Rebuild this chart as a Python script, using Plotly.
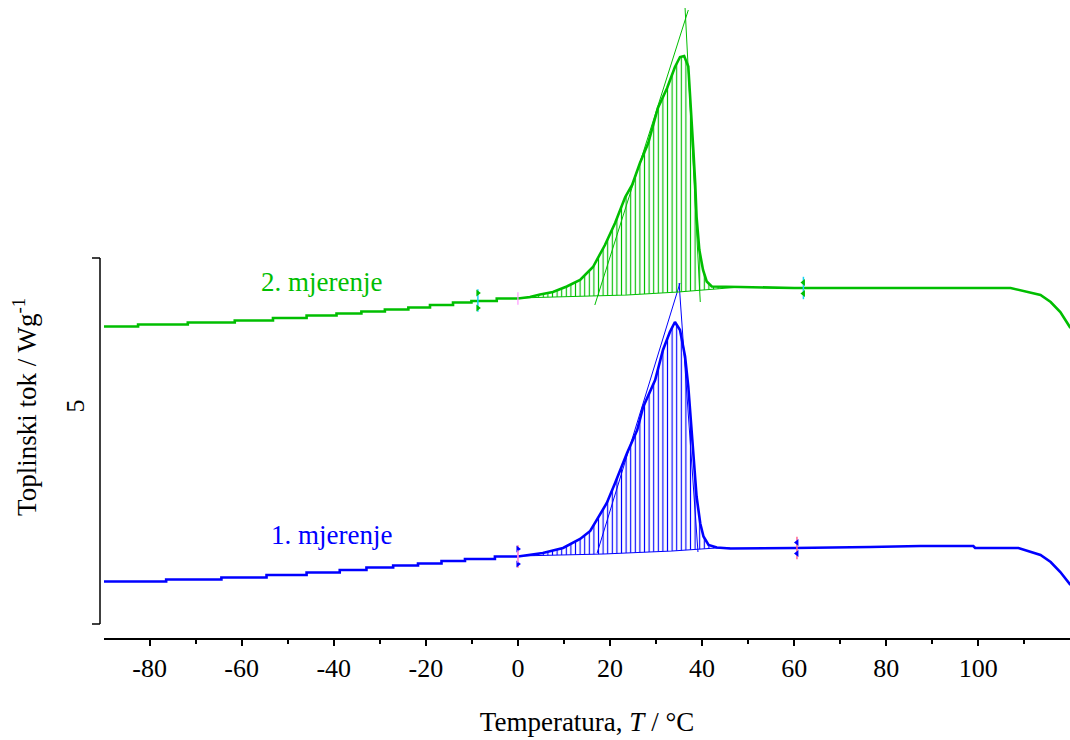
import plotly.graph_objects as go

# ---------------- data (T in °C, heat flow in W/g, curves offset) ----------------
# 1. mjerenje (blue)
blue_step_T = [-90, -76.4, -64.4, -54.6, -45.9, -38.7, -32.9, -27.1, -21.7, -16.6, -11.5, -5.0, 0.0]
blue_step_W = [1.57, 1.61, 1.65, 1.70, 1.75, 1.80, 1.85, 1.89, 1.93, 1.98, 2.02, 2.07, 2.07]
blue_T = [0, 1.9, 5.4, 9.8, 13.5, 15.7, 17.4, 19.3, 21.1, 23.7, 25.9, 27.2, 29.8, 31.5, 33.0, 34.1,
          35.2, 36.3, 37.0, 37.5, 38.1, 38.8, 39.6, 40.3, 41.4, 43.2, 46.1,
          52.6, 60, 76.5, 87.4, 98.9, 99.3, 108.7, 111.3, 113.5, 115.7, 117.8, 120]
blue_W = [2.07, 2.09, 2.14, 2.24, 2.42, 2.58, 2.84, 3.14, 3.54, 4.14, 4.60, 5.06, 5.60, 6.20, 6.56, 6.76,
          6.60, 6.07, 5.47, 4.80, 4.07, 3.27, 2.73, 2.47, 2.30, 2.25, 2.23,
          2.24, 2.24, 2.26, 2.28, 2.28, 2.24, 2.24, 2.16, 2.10, 1.96, 1.76, 1.50]
blue_base_T = [0, 18.6, 33.5, 43.0, 46.1]
blue_base_W = [2.08, 2.12, 2.18, 2.24, 2.24]
blue_tan_T = [[17.2, 35.2], [39.1, 35.0]]
blue_tan_W = [[2.14, 7.54], [2.16, 7.54]]
blue_lim_T = [0.0, 60.6]
blue_lim_W = [2.07, 2.24]

# 2. mjerenje (green)
green_step_T = [-90, -82.5, -71.7, -61.5, -53.2, -45.9, -39.4, -34.0, -28.9, -23.8, -19.1, -14.1, -10.1, -4.6, 0]
green_step_W = [6.67, 6.71, 6.75, 6.79, 6.84, 6.89, 6.93, 6.97, 7.01, 7.05, 7.10, 7.15, 7.18, 7.23, 7.23]
green_T = [0, 2.6, 4.8, 7.6, 10.6, 13.5, 16.3, 18.9, 21.1, 23.3, 24.8, 26.5, 28.3, 30.4, 32.4, 34.1,
           35.2, 36.1, 37.0, 37.5, 38.1, 38.5, 38.8, 39.4, 40.2, 41.0, 42.1, 48.3,
           52.6, 60, 107, 110.7, 113.5, 115.7, 117.8, 120]
green_W = [7.23, 7.26, 7.31, 7.36, 7.47, 7.60, 7.86, 8.30, 8.74, 9.26, 9.50, 9.94, 10.34, 11.04, 11.44, 11.86,
           12.06, 12.08, 11.87, 11.20, 10.20, 9.54, 8.86, 8.20, 7.80, 7.57, 7.47, 7.46,
           7.45, 7.44, 7.44, 7.36, 7.30, 7.16, 6.96, 6.64]
green_base_T = [0, 11.5, 23.7, 34.8, 46.0, 48.3]
green_base_W = [7.24, 7.27, 7.30, 7.36, 7.44, 7.46]
green_tan_T = [[16.7, 37.0], [36.3, 39.6]]
green_tan_W = [[7.10, 13.0], [13.04, 7.16]]
green_lim_T = [-8.7, 62.0]
green_lim_W = [7.19, 7.44]

x_ticks = [-80, -60, -40, -20, 0, 20, 40, 60, 80, 100]
x_tick_labels = ["-80", "-60", "-40", "-20", "0", "20", "40", "60", "80", "100"]
y_ticks = [5]
y_tick_labels = ["5"]

BLUE = "rgb(0,0,255)"
GREEN = "rgb(0,190,0)"
FONT = "Liberation Serif"

fig = go.Figure()


def add_series(stepT, stepW, T, W, bT, bW, tanT, tanW, limT, limW, color):
    tmax = bT[-1]
    pT = [t for t in T if t <= tmax]
    pW = W[:len(pT)]
    # baseline + hatched integration area
    fig.add_trace(go.Scatter(x=bT, y=bW, mode="lines", line=dict(color=color, width=1.2),
                             showlegend=False, hoverinfo="skip"))
    fig.add_trace(go.Scatter(x=pT, y=pW, mode="lines", line=dict(width=0), fill="tonexty",
                             fillcolor="rgba(0,0,0,0)",
                             fillpattern=dict(shape="|", fgcolor=color, bgcolor="rgba(0,0,0,0)",
                                              size=4.6, solidity=0.25, fillmode="replace"),
                             showlegend=False, hoverinfo="skip"))
    # tangents
    for tt, ww in zip(tanT, tanW):
        fig.add_trace(go.Scatter(x=tt, y=ww, mode="lines", line=dict(color=color, width=1),
                                 showlegend=False, hoverinfo="skip"))
    # curve
    fig.add_trace(go.Scatter(x=stepT, y=stepW, mode="lines", line=dict(color=color, width=2.6, shape="hv"),
                             showlegend=False))
    fig.add_trace(go.Scatter(x=T, y=W, mode="lines", line=dict(color=color, width=2.6),
                             showlegend=False))
    # integration limit markers
    fig.add_trace(go.Scatter(x=limT, y=limW, mode="markers",
                             marker=dict(symbol="line-ns-open", size=16, line=dict(color=color, width=1.5)),
                             showlegend=False, hoverinfo="skip"))
    fig.add_trace(go.Scatter(x=[limT[0], limT[0]], y=[limW[0] + 0.15, limW[0] - 0.15], mode="markers",
                             marker=dict(symbol="triangle-right", size=6, color=color),
                             showlegend=False, hoverinfo="skip"))
    fig.add_trace(go.Scatter(x=[limT[1], limT[1]], y=[limW[1] + 0.11, limW[1] - 0.11], mode="markers",
                             marker=dict(symbol="triangle-left", size=6, color=color),
                             showlegend=False, hoverinfo="skip"))


add_series(blue_step_T, blue_step_W, blue_T, blue_W, blue_base_T, blue_base_W,
           blue_tan_T, blue_tan_W, blue_lim_T, blue_lim_W, BLUE)
add_series(green_step_T, green_step_W, green_T, green_W, green_base_T, green_base_W,
           green_tan_T, green_tan_W, green_lim_T, green_lim_W, GREEN)

# red start markers
fig.add_trace(go.Scatter(x=[0, 0], y=[blue_step_W[-1], green_step_W[-1]], mode="markers",
                         marker=dict(symbol="line-ns-open", size=9, line=dict(color="red", width=1.2)),
                         showlegend=False, hoverinfo="skip"))

# curve labels
fig.add_annotation(x=-56.3, y=7.56, xref="x", yref="y", text="2. mjerenje", showarrow=False,
                   xanchor="left", yanchor="middle", font=dict(family=FONT, size=27, color=GREEN))
fig.add_annotation(x=-54.1, y=2.50, xref="x", yref="y", text="1. mjerenje", showarrow=False,
                   xanchor="left", yanchor="middle", font=dict(family=FONT, size=27, color=BLUE))

# y-axis title
fig.add_annotation(x=-0.0818, y=5.06, xref="paper", yref="y",
                   text="Toplinski tok / Wg<sup>-1</sup>", textangle=-90, showarrow=False,
                   xanchor="center", yanchor="middle", font=dict(family=FONT, size=27, color="black"))

# stand-alone y-axis line with end caps
PW = 966
ax_x = -4 / PW
cap = -12 / PW
for y0, y1, xa, xb in [(0.72, 8.04, ax_x, ax_x), (8.04, 8.04, cap, ax_x), (0.72, 0.72, cap, ax_x)]:
    fig.add_shape(type="line", xref="paper", yref="y", x0=xa, x1=xb, y0=y0, y1=y1,
                  line=dict(color="black", width=1.5))

fig.update_layout(
    width=1070, height=740,
    margin=dict(l=104, r=0, t=0, b=102, autoexpand=False),
    plot_bgcolor="white", paper_bgcolor="white",
    font=dict(family=FONT, color="black"),
    xaxis=dict(range=[-89.9, 119.9], tickvals=x_ticks, ticktext=x_tick_labels, ticks="outside",
               ticklen=6, tickwidth=1.5, tickcolor="black", showline=True, linecolor="black",
               linewidth=1.5, showgrid=False, zeroline=False, tickfont=dict(family=FONT, size=26),
               minor=dict(dtick=10, tick0=0, ticks="outside", ticklen=4, tickwidth=1.5,
                          tickcolor="black", showgrid=False),
               title=dict(text="Temperatura, <i>T</i> / °C", font=dict(family=FONT, size=27), standoff=30)),
    yaxis=dict(range=[0.44, 13.2], tickvals=y_ticks, ticktext=y_tick_labels, tickangle=-90, ticks="",
               showline=False, showgrid=False, zeroline=False, tickfont=dict(family=FONT, size=26),
               ticklabelstandoff=14),
)

# remove the default page margin so the figure fills the 1070x740 window exactly
fig.write_html(
    "out.html",
    config={"displayModeBar": False},
    post_script=("document.documentElement.style.overflow='hidden';"
                 "document.body.style.margin='0';document.body.style.overflow='hidden';"),
)
